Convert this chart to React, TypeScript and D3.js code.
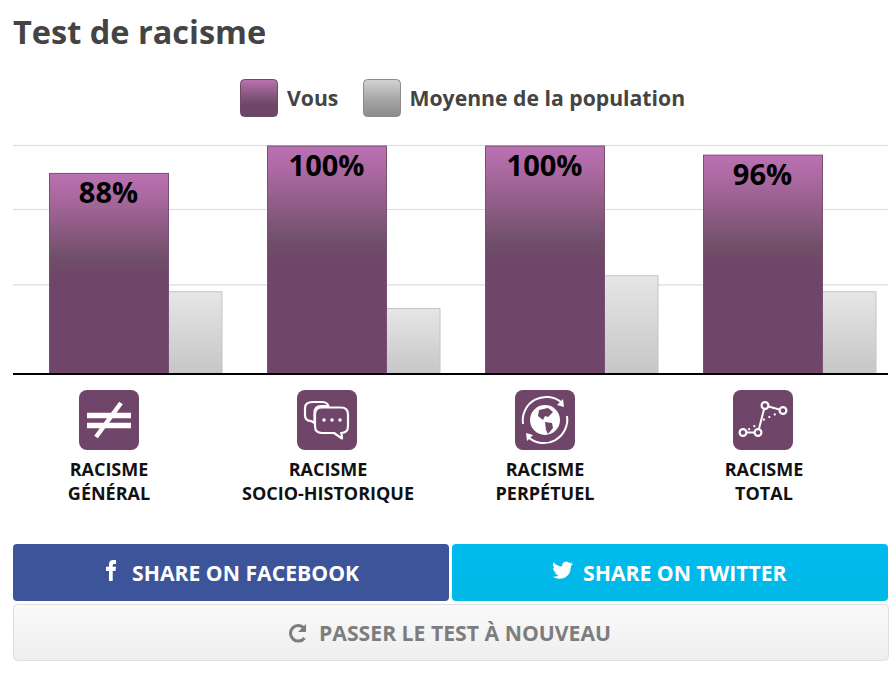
import React from "react";
import * as d3 from "d3";

const title = "Test de racisme";
const categories = ["general", "socio", "perpetuel", "total"];
const labelLines = [
  ["RACISME", "GÉNÉRAL"],
  ["RACISME", "SOCIO-HISTORIQUE"],
  ["RACISME", "PERPÉTUEL"],
  ["RACISME", "TOTAL"],
];
const youValues = [88, 100, 100, 96];
const avgValues = [36, 28.7, 43, 36];
const gridValues = [39, 72, 100];
const legendLabels = ["Vous", "Moyenne de la population"];

const FONT = "'Open Sans', sans-serif";
const x = d3.scaleBand<string>().domain(categories).range([13, 885]);
const y = d3.scaleLinear().domain([0, 100]).range([374, 145.5]);

const PURPLE = "#6f4569";

function IconNe() {
  return (
    <g stroke="#fff" fill="none" strokeWidth={5.5}>
      <path d="M8 25.5H52M8 35.5H52" />
      <path d="M42 13L17 47" strokeWidth={4.5} />
    </g>
  );
}
function IconChat() {
  return (
    <g stroke="#fff" fill="none" strokeWidth={2.2} strokeLinejoin="round">
      <path d="M16 12H25Q30 12 31.500 16H24Q17.500 16 17.500 23V33L14 31Q8 31 8 25V18Q8 12 16 12Z" />
      <path d="M25 17.500H44Q51 17.500 51 24.500V36Q51 43 44 43H44.500L45 48.500L37 43H25Q18 43 18 36V24.500Q18 17.500 25 17.500Z" />
      <g fill="#fff" stroke="none">
        <circle cx="27" cy="30" r="1.8" />
        <circle cx="35" cy="30" r="1.8" />
        <circle cx="43" cy="30" r="1.8" />
      </g>
    </g>
  );
}
function IconGlobe() {
  return (
    <g>
      <circle cx="30" cy="30" r="15" fill="#fff" />
      <path d="M24 20L33 18L38 22L33 27L30 26L28 30L23 26Z M30 32L37 33L38 38L33 44L31 40Z" fill={PURPLE} />
      <g stroke="#fff" fill="none" strokeWidth={2}>
        <path d="M8 34A23.500 23.500 0 0 1 47 13" />
        <path d="M52 26A23.500 23.500 0 0 1 13 47" />
      </g>
      <path d="M48 9L49 17L42 15Z M12 51L11 43L18 45Z" fill="#fff" />
    </g>
  );
}
function IconNet() {
  return (
    <g>
      <g stroke="#fff" fill="none" strokeWidth={2}>
        <path d="M10 42.500H25L32 15.500L50 20.500" />
        <path d="M10 42.500L25 34M30 30L50 20.500" strokeDasharray="2 4" />
      </g>
      <g fill={PURPLE} stroke="#fff" strokeWidth={2.2}>
        <circle cx="10" cy="42.500" r="3.400" />
        <circle cx="25" cy="42.500" r="3.400" />
        <circle cx="32" cy="15.500" r="3.400" />
        <circle cx="50" cy="20.500" r="3.400" />
      </g>
    </g>
  );
}
const icons = [IconNe, IconChat, IconGlobe, IconNet];

export default function App() {
  return (
    <svg
      width={894}
      height={676}
      style={{ position: "absolute", left: 0, top: 0, background: "#fff" }}
      fontFamily={FONT}
    >
      <defs>
        <linearGradient id="gp" x1="0" y1="0" x2="0" y2="1">
          <stop offset="0" stopColor="#bb71b3" />
          <stop offset="0.12" stopColor="#a9689f" />
          <stop offset="0.36" stopColor="#7c5474" />
          <stop offset="0.42" stopColor="#6f4f68" />
          <stop offset="0.52" stopColor={PURPLE} />
          <stop offset="1" stopColor={PURPLE} />
        </linearGradient>
        <linearGradient id="gl" x1="0" y1="0" x2="0" y2="1">
          <stop offset="0" stopColor="#bb71b3" />
          <stop offset="0.5" stopColor="#7c5474" />
          <stop offset="0.7" stopColor={PURPLE} />
          <stop offset="1" stopColor={PURPLE} />
        </linearGradient>
        <linearGradient id="gg" x1="0" y1="0" x2="0" y2="1">
          <stop offset="0" stopColor="#e6e6e6" />
          <stop offset="1" stopColor="#c6c6c6" />
        </linearGradient>
        <linearGradient id="gs" x1="0" y1="0" x2="0" y2="1">
          <stop offset="0" stopColor="#d4d4d4" />
          <stop offset="0.55" stopColor="#a4a4a4" />
          <stop offset="1" stopColor="#8c8c8c" />
        </linearGradient>
        <linearGradient id="gr" x1="0" y1="0" x2="0" y2="1">
          <stop offset="0" stopColor="#fafafa" />
          <stop offset="1" stopColor="#eeeeee" />
        </linearGradient>
        <linearGradient id="gt" x1="0" y1="0" x2="0" y2="1">
          <stop offset="0" stopColor="#00bbee" />
          <stop offset="1" stopColor="#00b8e6" />
        </linearGradient>
      </defs>

      <text x={13} y={44} fontSize={32.5} fontWeight={700} fill="#444">{title}</text>

      <g>
        <rect x={240.5} y={79.5} width={37} height={37} rx={4} fill="url(#gl)" stroke="#6a4a66" />
        <text x={287} y={106} fontSize={21.2} fontWeight={700} fill="#444">{legendLabels[0]}</text>
        <rect x={363.5} y={79.5} width={37} height={37} rx={4} fill="url(#gs)" stroke="#8c8c8c" />
        <text x={409.5} y={106} fontSize={21.2} fontWeight={700} fill="#444">{legendLabels[1]}</text>
      </g>

      {gridValues.map((v) => (
        <line key={v} x1={13} x2={888} y1={y(v)} y2={y(v)} stroke="#dcdcdc" strokeWidth={1.2} />
      ))}

      {categories.map((c, i) => {
        const bx = (x(c) as number) + 36;
        const Icon = icons[i];
        const cx = bx + 60;
        return (
          <g key={c}>
            <rect
              x={bx + 119}
              y={y(avgValues[i])}
              width={54}
              height={y(0) - y(avgValues[i])}
              fill="url(#gg)"
              stroke="#c4c4c4"
            />
            <rect
              x={bx + 0.5}
              y={y(youValues[i]) + 0.5}
              width={119}
              height={y(0) - y(youValues[i]) - 0.5}
              fill="url(#gp)"
              stroke="#7a4f74"
            />
            <text x={cx - 0.5} y={y(youValues[i]) + 30} textAnchor="middle" fontSize={29} fontWeight={700} fill="#000">
              {youValues[i]}%
            </text>
            <g transform={`translate(${bx + 30},390)`}>
              <rect width={60} height={60} rx={8} fill={PURPLE} />
              <Icon />
            </g>
            {labelLines[i].map((t, k) => (
              <text key={k} x={cx + (i === 1 ? 1 : i === 3 ? 1 : 0)} y={476 + k * 24} textAnchor="middle" fontSize={18} fontWeight={700} fill="#111">
                {t}
              </text>
            ))}
          </g>
        );
      })}

      <line x1={13} x2={888} y1={374} y2={374} stroke="#000" strokeWidth={2} />

      <rect x={13} y={544} width={436} height={57} rx={4} fill="#3c5499" />
      <path d="M109 581V571H106V566.800H109V564Q109 560 113.500 560H116V564H114Q112.700 564 112.700 565.200V566.800H116L115.500 571H112.700V581Z" fill="#fff" />
      <text x={132} y={581} fontSize={21.2} fontWeight={700} fill="#fff">SHARE ON FACEBOOK</text>

      <rect x={452} y={544} width={436} height={57} rx={4} fill="url(#gt)" />
      <path d="M571 566.500Q571 566 571 565.700Q572.400 564.700 573 563.500Q571.800 564 570.500 564.200Q571.800 563.400 572.300 562Q571 562.800 569.500 563Q568 561.500 566 561.500Q562 561.800 562 566.500Q557 566.200 553.500 562.200Q551.700 565.500 554.800 568.500Q553.700 568.400 553 568Q553 571.400 556.300 572.300Q555.400 572.500 554.500 572.300Q555.400 575 558.300 575.200Q555.800 577.200 552.500 576.800Q556 579 560 578.800Q570.500 578 571 566.500Z" fill="#fff" />
      <text x={583} y={581} fontSize={21.2} fontWeight={700} fill="#fff">SHARE ON TWITTER</text>

      <rect x={13.5} y={604.5} width={875} height={56} rx={4} fill="url(#gr)" stroke="#e0e0e0" />
      <path d="M304 628A7.800 7.800 0 1 0 304.500 638" fill="none" stroke="#7d7d7d" strokeWidth={3} />
      <path d="M306 624V632H298Z" fill="#7d7d7d" />
      <text x={319} y={641} fontSize={21.2} fontWeight={700} fill="#7d7d7d">PASSER LE TEST À NOUVEAU</text>
    </svg>
  );
}
